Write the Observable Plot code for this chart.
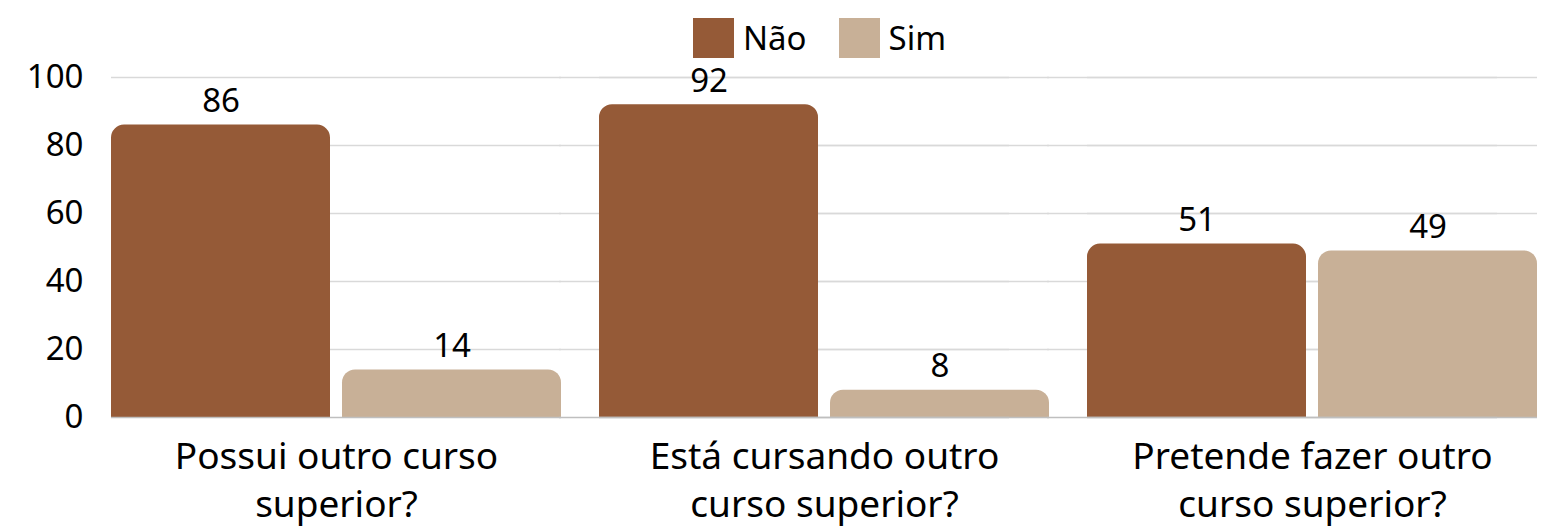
<!DOCTYPE html>
<html>
<head>
<meta charset="utf-8">
<script src="https://cdn.jsdelivr.net/npm/d3@7"></script>
<script src="https://cdn.jsdelivr.net/npm/@observablehq/plot@0.6"></script>
<style>
  body { margin: 0; background: #fff; font-family: "Noto Sans", sans-serif; }
  #wrap { position: relative; width: 1557px; height: 526px; }
  #legend { position: absolute; top: 18px; left: 693px; display: flex; align-items: center; }
  .item { display: flex; align-items: center; margin-right: 32px; font-size: 33px; color: #000; }
  .sw { width: 41px; height: 40px; margin-right: 9px; }
  .item span { line-height: 40px; }
</style>
</head>
<body>
<div id="wrap">
<div id="chart"></div>
<div id="legend"></div>
</div>
<script>
const categories = ["Possui outro curso\nsuperior?", "Está cursando outro\ncurso superior?", "Pretende fazer outro\ncurso superior?"];
const series = ["Não", "Sim"];
const naoValues = [86, 92, 51];
const simValues = [14, 8, 49];
const colors = ["#955A37", "#C8B097"];
const yTicks = [0, 20, 40, 60, 80, 100];

const data = [];
categories.forEach((c, i) => {
  data.push({category: c, series: "Não", value: naoValues[i]});
  data.push({category: c, series: "Sim", value: simValues[i]});
});

// grid rows per facet
const gridRows = [];
categories.forEach(c => yTicks.forEach(t => gridRows.push({category: c, tick: t})));
const gridAll = gridRows.filter(d => d.tick > 0);
const gridGap = gridRows.filter(d => d.tick > 0 && d.category !== categories[0]);
const baseAll = gridRows.filter(d => d.tick === 0);
const baseGap = gridRows.filter(d => d.tick === 0 && d.category !== categories[0]);

const legend = document.getElementById("legend");
series.forEach((s, i) => {
  const it = document.createElement("div");
  it.className = "item";
  it.innerHTML = `<div class="sw" style="background:${colors[i]}"></div><span>${s}</span>`;
  legend.appendChild(it);
});

const chart = Plot.plot({
  width: 1557,
  height: 526,
  marginLeft: 110,
  marginRight: 20,
  marginTop: 77,
  marginBottom: 109,
  style: {fontFamily: "Noto Sans", fontSize: "33px", color: "#000", background: "#fff"},
  fx: {domain: categories, paddingInner: 0.078, paddingOuter: 0, label: null},
  x: {domain: series, paddingInner: 0.052, paddingOuter: 0, axis: null, label: null},
  y: {domain: [0, 100], label: null, axis: null},
  color: {domain: series, range: colors},
  marks: [
    Plot.ruleY(gridAll, {fx: "category", y: "tick", stroke: "#d9d9d9", strokeWidth: 1.3}),
    Plot.ruleY(gridGap, {fx: "category", y: "tick", stroke: "#d9d9d9", strokeWidth: 1.3, dx: -40}),
    Plot.axisY(yTicks, {tickSize: 0, tickPadding: 28, fontSize: 33, label: null}),
    Plot.axisFx({anchor: "bottom", tickSize: 0, tickPadding: 17, fontSize: 37, lineHeight: 1.3, label: null}),
    Plot.barY(data, {fx: "category", x: "series", y: "value", fill: "series", ry1: 13}),
    Plot.ruleY(baseAll, {fx: "category", y: "tick", stroke: "#bfbfbf", strokeWidth: 1.3}),
    Plot.ruleY(baseGap, {fx: "category", y: "tick", stroke: "#bfbfbf", strokeWidth: 1.3, dx: -40}),
    Plot.text(data, {fx: "category", x: "series", y: "value", text: d => String(d.value), lineAnchor: "bottom", dy: -13, fontSize: 33, fill: "#000"})
  ]
});
document.getElementById("chart").appendChild(chart);
</script>
</body>
</html>
